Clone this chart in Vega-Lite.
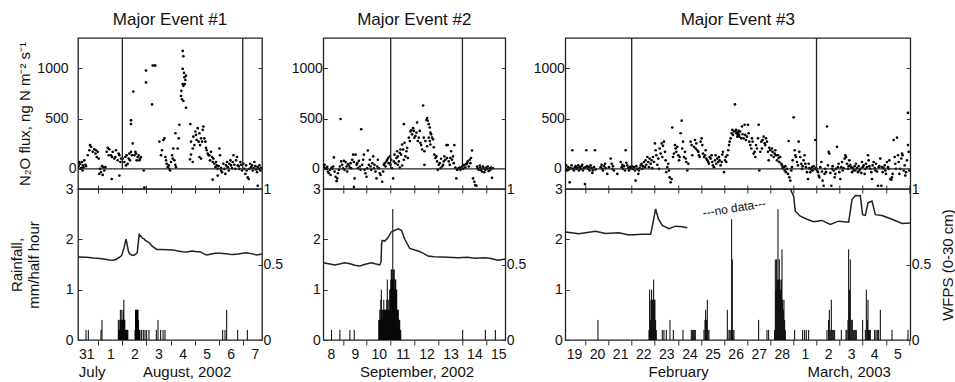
{
"$schema": "https://vega.github.io/schema/vega-lite/v6.json",
"autosize": {"type": "pad"},
"padding": {"left": 8, "top": 10, "right": 0, "bottom": 3},
"background": "white",
"config": {
 "font": "Liberation Sans",
 "view": {"stroke": "#222", "strokeWidth": 1.3},
 "axis": {"grid": false, "domain": false, "labelFont": "Liberation Sans", "labelFontSize": 14, "labelColor": "#111", "tickColor": "#333", "tickWidth": 1, "titleFont": "Liberation Sans", "titleFontWeight": "normal", "titleFontSize": 15, "titleColor": "#111", "labelOverlap": false, "labelFlush": false, "labelBound": false},
 "title": {"fontSize": 17, "fontWeight": "normal", "anchor": "middle", "frame": "group", "offset": 8, "color": "#111", "font": "Liberation Sans"}
},
"datasets": {
 "flux1": [{"day":0.143,"flux":17},{"day":0.185,"flux":27},{"day":0.212,"flux":68},{"day":0.24,"flux":51},{"day":0.282,"flux":7},{"day":0.323,"flux":68},{"day":0.351,"flux":34},{"day":0.351,"flux":-16},{"day":0.379,"flux":17},{"day":0.42,"flux":85},{"day":0.462,"flux":41},{"day":0.49,"flux":27},{"day":0.559,"flux":135},{"day":0.628,"flux":185},{"day":0.656,"flux":236},{"day":0.697,"flux":219},{"day":0.767,"flux":169},{"day":0.836,"flux":195},{"day":0.877,"flux":152},{"day":0.905,"flux":185},{"day":0.933,"flux":118},{"day":0.974,"flux":169},{"day":1.016,"flux":102},{"day":1.043,"flux":-50},{"day":1.071,"flux":0},{"day":1.113,"flux":-33},{"day":1.154,"flux":27},{"day":1.182,"flux":-60},{"day":1.21,"flux":17},{"day":1.251,"flux":-16},{"day":1.293,"flux":17},{"day":1.348,"flux":169},{"day":1.39,"flux":209},{"day":1.431,"flux":135},{"day":1.459,"flux":195},{"day":1.528,"flux":135},{"day":1.556,"flux":-101},{"day":1.57,"flux":118},{"day":1.598,"flux":169},{"day":1.667,"flux":102},{"day":1.708,"flux":118},{"day":1.736,"flux":185},{"day":1.805,"flux":85},{"day":1.847,"flux":152},{"day":1.875,"flux":135},{"day":1.875,"flux":-67},{"day":1.916,"flux":68},{"day":1.944,"flux":102},{"day":2.013,"flux":102},{"day":2.082,"flux":68},{"day":2.124,"flux":118},{"day":2.15,"flux":34},{"day":2.179,"flux":135},{"day":2.221,"flux":51},{"day":2.262,"flux":102},{"day":2.29,"flux":152},{"day":2.318,"flux":85},{"day":2.359,"flux":169},{"day":2.359,"flux":482},{"day":2.359,"flux":445},{"day":2.4,"flux":135},{"day":2.429,"flux":253},{"day":2.456,"flux":768},{"day":2.498,"flux":135},{"day":2.539,"flux":169},{"day":2.567,"flux":152},{"day":2.595,"flux":85},{"day":2.636,"flux":118},{"day":2.678,"flux":135},{"day":2.706,"flux":85},{"day":2.733,"flux":102},{"day":2.775,"flux":118},{"day":2.886,"flux":-16},{"day":2.913,"flux":-185},{"day":2.983,"flux":977},{"day":2.983,"flux":859},{"day":3.232,"flux":640},{"day":3.26,"flux":1027},{"day":3.329,"flux":1027},{"day":3.37,"flux":1027},{"day":3.536,"flux":270},{"day":3.606,"flux":135},{"day":3.647,"flux":185},{"day":3.703,"flux":287},{"day":3.744,"flux":303},{"day":3.786,"flux":118},{"day":3.814,"flux":85},{"day":3.841,"flux":51},{"day":3.883,"flux":17},{"day":3.924,"flux":34},{"day":3.952,"flux":0},{"day":3.98,"flux":-16},{"day":4.021,"flux":68},{"day":4.063,"flux":135},{"day":4.091,"flux":102},{"day":4.118,"flux":202},{"day":4.16,"flux":85},{"day":4.201,"flux":41},{"day":4.201,"flux":354},{"day":4.229,"flux":17},{"day":4.298,"flux":202},{"day":4.34,"flux":303},{"day":4.368,"flux":438},{"day":4.437,"flux":724},{"day":4.451,"flux":775},{"day":4.478,"flux":691},{"day":4.506,"flux":842},{"day":4.506,"flux":994},{"day":4.506,"flux":1172},{"day":4.534,"flux":674},{"day":4.534,"flux":825},{"day":4.534,"flux":1118},{"day":4.561,"flux":953},{"day":4.575,"flux":910},{"day":4.589,"flux":842},{"day":4.617,"flux":883},{"day":4.645,"flux":926},{"day":4.645,"flux":607},{"day":4.81,"flux":95},{"day":4.825,"flux":445},{"day":4.852,"flux":270},{"day":4.852,"flux":142},{"day":4.922,"flux":202},{"day":4.922,"flux":68},{"day":4.949,"flux":320},{"day":4.991,"flux":236},{"day":5.032,"flux":371},{"day":5.06,"flux":337},{"day":5.088,"flux":287},{"day":5.129,"flux":404},{"day":5.171,"flux":270},{"day":5.199,"flux":354},{"day":5.199,"flux":118},{"day":5.226,"flux":236},{"day":5.268,"flux":303},{"day":5.268,"flux":102},{"day":5.309,"flux":270},{"day":5.337,"flux":388},{"day":5.365,"flux":421},{"day":5.406,"flux":303},{"day":5.448,"flux":270},{"day":5.476,"flux":209},{"day":5.503,"flux":185},{"day":5.545,"flux":152},{"day":5.586,"flux":135},{"day":5.614,"flux":135},{"day":5.642,"flux":85},{"day":5.683,"flux":169},{"day":5.725,"flux":118},{"day":5.753,"flux":68},{"day":5.753,"flux":-107},{"day":5.78,"flux":102},{"day":5.822,"flux":51},{"day":5.863,"flux":17},{"day":5.891,"flux":68},{"day":5.919,"flux":34},{"day":5.96,"flux":0},{"day":5.96,"flux":-67},{"day":6.002,"flux":27},{"day":6.03,"flux":202},{"day":6.057,"flux":135},{"day":6.099,"flux":7},{"day":6.099,"flux":-16},{"day":6.14,"flux":-33},{"day":6.196,"flux":51},{"day":6.237,"flux":0},{"day":6.279,"flux":-50},{"day":6.307,"flux":34},{"day":6.348,"flux":68},{"day":6.376,"flux":17},{"day":6.417,"flux":-16},{"day":6.445,"flux":51},{"day":6.487,"flux":85},{"day":6.514,"flux":34},{"day":6.556,"flux":7},{"day":6.584,"flux":68},{"day":6.611,"flux":135},{"day":6.653,"flux":41},{"day":6.694,"flux":0},{"day":6.722,"flux":85},{"day":6.764,"flux":118},{"day":6.791,"flux":34},{"day":6.833,"flux":27},{"day":6.861,"flux":0},{"day":6.902,"flux":68},{"day":6.93,"flux":41},{"day":6.971,"flux":-16},{"day":7.027,"flux":51},{"day":7.068,"flux":0},{"day":7.11,"flux":-50},{"day":7.138,"flux":34},{"day":7.165,"flux":-16},{"day":7.207,"flux":-84},{"day":7.248,"flux":-101},{"day":7.276,"flux":0},{"day":7.304,"flux":51},{"day":7.345,"flux":17},{"day":7.387,"flux":34},{"day":7.415,"flux":-16},{"day":7.456,"flux":7},{"day":7.484,"flux":68},{"day":7.525,"flux":27},{"day":7.553,"flux":-6},{"day":7.595,"flux":-33},{"day":7.622,"flux":17},{"day":7.622,"flux":-168},{"day":7.664,"flux":0},{"day":7.692,"flux":34},{"day":7.733,"flux":-16},{"day":7.761,"flux":7}],
 "flux2": [{"day":8.139,"flux":33},{"day":8.18,"flux":23},{"day":8.208,"flux":13},{"day":8.236,"flux":40},{"day":8.278,"flux":6},{"day":8.32,"flux":0},{"day":8.347,"flux":20},{"day":8.375,"flux":-27},{"day":8.417,"flux":-44},{"day":8.459,"flux":-10},{"day":8.487,"flux":-61},{"day":8.528,"flux":13},{"day":8.556,"flux":0},{"day":8.598,"flux":23},{"day":8.626,"flux":114},{"day":8.654,"flux":-27},{"day":8.695,"flux":-78},{"day":8.737,"flux":-122},{"day":8.765,"flux":-95},{"day":8.793,"flux":-44},{"day":8.835,"flux":-10},{"day":8.876,"flux":23},{"day":8.904,"flux":495},{"day":8.932,"flux":74},{"day":8.974,"flux":40},{"day":9.015,"flux":6},{"day":9.043,"flux":81},{"day":9.071,"flux":-10},{"day":9.113,"flux":67},{"day":9.155,"flux":23},{"day":9.182,"flux":-27},{"day":9.21,"flux":47},{"day":9.252,"flux":33},{"day":9.294,"flux":13},{"day":9.322,"flux":57},{"day":9.35,"flux":6},{"day":9.391,"flux":91},{"day":9.433,"flux":141},{"day":9.461,"flux":67},{"day":9.461,"flux":-179},{"day":9.489,"flux":-95},{"day":9.53,"flux":141},{"day":9.572,"flux":40},{"day":9.6,"flux":57},{"day":9.628,"flux":6},{"day":9.67,"flux":81},{"day":9.711,"flux":23},{"day":9.739,"flux":-10},{"day":9.767,"flux":394},{"day":9.809,"flux":40},{"day":9.85,"flux":91},{"day":9.878,"flux":141},{"day":9.906,"flux":-10},{"day":9.948,"flux":-44},{"day":9.99,"flux":-78},{"day":10.017,"flux":6},{"day":10.045,"flux":182},{"day":10.087,"flux":40},{"day":10.129,"flux":91},{"day":10.157,"flux":23},{"day":10.185,"flux":-10},{"day":10.226,"flux":57},{"day":10.268,"flux":124},{"day":10.296,"flux":6},{"day":10.324,"flux":40},{"day":10.365,"flux":-27},{"day":10.407,"flux":-95},{"day":10.435,"flux":23},{"day":10.463,"flux":91},{"day":10.505,"flux":6},{"day":10.546,"flux":-44},{"day":10.574,"flux":-61},{"day":10.644,"flux":-128},{"day":10.685,"flux":-27},{"day":10.713,"flux":40},{"day":10.755,"flux":57},{"day":10.783,"flux":23},{"day":10.825,"flux":74},{"day":10.853,"flux":91},{"day":10.894,"flux":108},{"day":10.922,"flux":57},{"day":10.964,"flux":124},{"day":10.992,"flux":40},{"day":11.02,"flux":91},{"day":11.061,"flux":6},{"day":11.103,"flux":-95},{"day":11.131,"flux":74},{"day":11.159,"flux":141},{"day":11.2,"flux":57},{"day":11.242,"flux":108},{"day":11.27,"flux":175},{"day":11.298,"flux":124},{"day":11.298,"flux":40},{"day":11.34,"flux":74},{"day":11.381,"flux":158},{"day":11.381,"flux":13},{"day":11.409,"flux":192},{"day":11.437,"flux":141},{"day":11.479,"flux":242},{"day":11.479,"flux":33},{"day":11.521,"flux":192},{"day":11.549,"flux":444},{"day":11.549,"flux":91},{"day":11.576,"flux":259},{"day":11.618,"flux":124},{"day":11.66,"flux":175},{"day":11.688,"flux":209},{"day":11.716,"flux":108},{"day":11.757,"flux":310},{"day":11.799,"flux":276},{"day":11.827,"flux":370},{"day":11.855,"flux":384},{"day":11.897,"flux":343},{"day":11.938,"flux":404},{"day":11.966,"flux":377},{"day":11.994,"flux":310},{"day":12.036,"flux":326},{"day":12.077,"flux":360},{"day":12.105,"flux":461},{"day":12.133,"flux":276},{"day":12.175,"flux":310},{"day":12.217,"flux":377},{"day":12.244,"flux":259},{"day":12.272,"flux":236},{"day":12.314,"flux":192},{"day":12.356,"flux":629},{"day":12.384,"flux":310},{"day":12.412,"flux":40},{"day":12.412,"flux":175},{"day":12.453,"flux":276},{"day":12.495,"flux":485},{"day":12.523,"flux":505},{"day":12.523,"flux":225},{"day":12.551,"flux":478},{"day":12.592,"flux":444},{"day":12.592,"flux":310},{"day":12.634,"flux":411},{"day":12.634,"flux":276},{"day":12.662,"flux":360},{"day":12.662,"flux":242},{"day":12.69,"flux":343},{"day":12.732,"flux":310},{"day":12.773,"flux":293},{"day":12.801,"flux":215},{"day":12.829,"flux":141},{"day":12.871,"flux":108},{"day":12.912,"flux":124},{"day":12.94,"flux":74},{"day":12.968,"flux":-10},{"day":13.01,"flux":40},{"day":13.052,"flux":57},{"day":13.08,"flux":6},{"day":13.107,"flux":101},{"day":13.149,"flux":23},{"day":13.191,"flux":40},{"day":13.219,"flux":74},{"day":13.247,"flux":124},{"day":13.288,"flux":91},{"day":13.33,"flux":236},{"day":13.358,"flux":108},{"day":13.386,"flux":236},{"day":13.427,"flux":74},{"day":13.469,"flux":40},{"day":13.497,"flux":108},{"day":13.525,"flux":175},{"day":13.567,"flux":91},{"day":13.608,"flux":124},{"day":13.636,"flux":57},{"day":13.664,"flux":236},{"day":13.706,"flux":13},{"day":13.748,"flux":-95},{"day":13.775,"flux":-10},{"day":13.803,"flux":-3},{"day":13.845,"flux":6},{"day":13.887,"flux":13},{"day":13.915,"flux":-10},{"day":13.943,"flux":6},{"day":13.984,"flux":23},{"day":14.026,"flux":0},{"day":14.054,"flux":33},{"day":14.082,"flux":40},{"day":14.123,"flux":13},{"day":14.165,"flux":47},{"day":14.193,"flux":57},{"day":14.221,"flux":74},{"day":14.263,"flux":23},{"day":14.304,"flux":91},{"day":14.332,"flux":57},{"day":14.36,"flux":108},{"day":14.402,"flux":182},{"day":14.443,"flux":-95},{"day":14.499,"flux":-128},{"day":14.541,"flux":-162},{"day":14.583,"flux":-168},{"day":14.611,"flux":23},{"day":14.638,"flux":6},{"day":14.68,"flux":-10},{"day":14.722,"flux":33},{"day":14.75,"flux":13},{"day":14.778,"flux":-10},{"day":14.819,"flux":-27},{"day":14.861,"flux":23},{"day":14.889,"flux":6},{"day":14.917,"flux":-34},{"day":14.958,"flux":-10},{"day":15.0,"flux":13},{"day":15.028,"flux":0},{"day":15.056,"flux":23},{"day":15.097,"flux":-20},{"day":15.139,"flux":6},{"day":15.167,"flux":-10},{"day":15.195,"flux":13},{"day":15.237,"flux":-88},{"day":15.278,"flux":6}],
 "flux3": [{"day":19.14,"flux":0},{"day":19.169,"flux":34},{"day":19.212,"flux":-16},{"day":19.256,"flux":17},{"day":19.285,"flux":-6},{"day":19.313,"flux":-134},{"day":19.357,"flux":7},{"day":19.4,"flux":34},{"day":19.429,"flux":185},{"day":19.458,"flux":0},{"day":19.501,"flux":-16},{"day":19.544,"flux":17},{"day":19.573,"flux":27},{"day":19.602,"flux":0},{"day":19.645,"flux":7},{"day":19.689,"flux":34},{"day":19.718,"flux":-16},{"day":19.746,"flux":17},{"day":19.79,"flux":0},{"day":19.833,"flux":27},{"day":19.862,"flux":41},{"day":19.891,"flux":-16},{"day":19.934,"flux":7},{"day":19.977,"flux":-151},{"day":20.006,"flux":17},{"day":20.035,"flux":185},{"day":20.078,"flux":27},{"day":20.122,"flux":0},{"day":20.15,"flux":17},{"day":20.179,"flux":-16},{"day":20.223,"flux":34},{"day":20.266,"flux":7},{"day":20.295,"flux":-40},{"day":20.324,"flux":-16},{"day":20.367,"flux":17},{"day":20.41,"flux":185},{"day":20.439,"flux":-6},{"day":20.656,"flux":17},{"day":20.699,"flux":41},{"day":20.728,"flux":0},{"day":20.757,"flux":-16},{"day":20.8,"flux":27},{"day":20.843,"flux":51},{"day":20.872,"flux":7},{"day":20.944,"flux":-50},{"day":21.016,"flux":17},{"day":21.088,"flux":102},{"day":21.132,"flux":51},{"day":21.161,"flux":0},{"day":21.189,"flux":27},{"day":21.233,"flux":-16},{"day":21.377,"flux":-50},{"day":21.521,"flux":68},{"day":21.565,"flux":17},{"day":21.593,"flux":41},{"day":21.622,"flux":0},{"day":21.666,"flux":27},{"day":21.709,"flux":-16},{"day":21.738,"flux":185},{"day":21.767,"flux":61},{"day":21.81,"flux":34},{"day":21.853,"flux":7},{"day":21.882,"flux":-16},{"day":21.911,"flux":17},{"day":21.954,"flux":0},{"day":21.997,"flux":27},{"day":22.055,"flux":0},{"day":22.098,"flux":17},{"day":22.142,"flux":-16},{"day":22.171,"flux":-117},{"day":22.199,"flux":27},{"day":22.243,"flux":0},{"day":22.286,"flux":-50},{"day":22.315,"flux":-16},{"day":22.344,"flux":7},{"day":22.387,"flux":34},{"day":22.43,"flux":51},{"day":22.459,"flux":0},{"day":22.488,"flux":27},{"day":22.531,"flux":68},{"day":22.575,"flux":17},{"day":22.604,"flux":85},{"day":22.632,"flux":41},{"day":22.676,"flux":118},{"day":22.719,"flux":68},{"day":22.748,"flux":17},{"day":22.777,"flux":102},{"day":22.82,"flux":51},{"day":22.863,"flux":85},{"day":22.892,"flux":7},{"day":22.921,"flux":118},{"day":22.964,"flux":68},{"day":23.007,"flux":253},{"day":23.036,"flux":185},{"day":23.065,"flux":135},{"day":23.109,"flux":41},{"day":23.152,"flux":102},{"day":23.181,"flux":0},{"day":23.21,"flux":202},{"day":23.253,"flux":152},{"day":23.296,"flux":253},{"day":23.325,"flux":118},{"day":23.354,"flux":229},{"day":23.397,"flux":270},{"day":23.44,"flux":169},{"day":23.469,"flux":85},{"day":23.498,"flux":-33},{"day":23.541,"flux":17},{"day":23.585,"flux":51},{"day":23.614,"flux":-16},{"day":23.643,"flux":-84},{"day":23.686,"flux":-134},{"day":23.729,"flux":-101},{"day":23.758,"flux":411},{"day":23.787,"flux":118},{"day":23.83,"flux":152},{"day":23.873,"flux":236},{"day":23.902,"flux":202},{"day":23.931,"flux":169},{"day":23.974,"flux":219},{"day":24.018,"flux":135},{"day":24.047,"flux":85},{"day":24.075,"flux":118},{"day":24.119,"flux":354},{"day":24.162,"flux":479},{"day":24.191,"flux":202},{"day":24.22,"flux":270},{"day":24.263,"flux":118},{"day":24.306,"flux":169},{"day":24.335,"flux":102},{"day":24.364,"flux":68},{"day":24.407,"flux":-16},{"day":24.451,"flux":51},{"day":24.552,"flux":270},{"day":24.595,"flux":236},{"day":24.624,"flux":135},{"day":24.696,"flux":219},{"day":24.739,"flux":287},{"day":24.768,"flux":202},{"day":24.797,"flux":253},{"day":24.84,"flux":185},{"day":24.883,"flux":169},{"day":24.912,"flux":135},{"day":24.941,"flux":118},{"day":24.984,"flux":270},{"day":25.028,"flux":303},{"day":25.057,"flux":236},{"day":25.085,"flux":152},{"day":25.129,"flux":118},{"day":25.172,"flux":135},{"day":25.201,"flux":185},{"day":25.23,"flux":102},{"day":25.273,"flux":85},{"day":25.316,"flux":68},{"day":25.345,"flux":51},{"day":25.374,"flux":118},{"day":25.417,"flux":102},{"day":25.46,"flux":135},{"day":25.49,"flux":68},{"day":25.518,"flux":34},{"day":25.562,"flux":17},{"day":25.605,"flux":85},{"day":25.634,"flux":135},{"day":25.663,"flux":51},{"day":25.706,"flux":102},{"day":25.749,"flux":68},{"day":25.778,"flux":118},{"day":25.807,"flux":85},{"day":25.85,"flux":34},{"day":25.894,"flux":68},{"day":25.922,"flux":142},{"day":25.951,"flux":169},{"day":25.995,"flux":-33},{"day":26.038,"flux":85},{"day":26.067,"flux":118},{"day":26.096,"flux":68},{"day":26.139,"flux":135},{"day":26.182,"flux":185},{"day":26.211,"flux":236},{"day":26.24,"flux":270},{"day":26.283,"flux":303},{"day":26.327,"flux":354},{"day":26.355,"flux":388},{"day":26.384,"flux":337},{"day":26.427,"flux":371},{"day":26.471,"flux":640},{"day":26.5,"flux":378},{"day":26.528,"flux":354},{"day":26.572,"flux":320},{"day":26.615,"flux":364},{"day":26.644,"flux":337},{"day":26.514,"flux":388},{"day":26.557,"flux":354},{"day":26.6,"flux":337},{"day":26.629,"flux":378},{"day":26.658,"flux":320},{"day":26.701,"flux":371},{"day":26.745,"flux":303},{"day":26.774,"flux":421},{"day":26.802,"flux":344},{"day":26.846,"flux":303},{"day":26.889,"flux":438},{"day":26.918,"flux":337},{"day":26.947,"flux":287},{"day":26.99,"flux":320},{"day":27.033,"flux":438},{"day":27.062,"flux":354},{"day":27.091,"flux":270},{"day":27.134,"flux":236},{"day":27.178,"flux":202},{"day":27.207,"flux":303},{"day":27.235,"flux":270},{"day":27.279,"flux":152},{"day":27.322,"flux":169},{"day":27.351,"flux":118},{"day":27.38,"flux":236},{"day":27.423,"flux":202},{"day":27.466,"flux":303},{"day":27.495,"flux":438},{"day":27.524,"flux":-16},{"day":27.567,"flux":169},{"day":27.61,"flux":270},{"day":27.639,"flux":202},{"day":27.668,"flux":287},{"day":27.712,"flux":320},{"day":27.755,"flux":253},{"day":27.784,"flux":236},{"day":27.813,"flux":303},{"day":27.856,"flux":270},{"day":27.899,"flux":169},{"day":27.928,"flux":85},{"day":27.957,"flux":209},{"day":28.0,"flux":185},{"day":28.043,"flux":135},{"day":28.072,"flux":202},{"day":28.101,"flux":169},{"day":28.144,"flux":118},{"day":28.188,"flux":152},{"day":28.217,"flux":185},{"day":28.245,"flux":135},{"day":28.289,"flux":85},{"day":28.332,"flux":135},{"day":28.361,"flux":108},{"day":28.39,"flux":68},{"day":28.433,"flux":118},{"day":28.476,"flux":51},{"day":28.505,"flux":34},{"day":28.534,"flux":7},{"day":28.577,"flux":17},{"day":28.621,"flux":-16},{"day":28.649,"flux":27},{"day":28.678,"flux":-33},{"day":28.722,"flux":0},{"day":28.765,"flux":-50},{"day":28.794,"flux":277},{"day":28.823,"flux":-84},{"day":28.866,"flux":-117},{"day":28.909,"flux":-16},{"day":28.938,"flux":17},{"day":28.967,"flux":85},{"day":29.01,"flux":512},{"day":29.054,"flux":185},{"day":29.082,"flux":135},{"day":29.111,"flux":118},{"day":29.155,"flux":68},{"day":29.198,"flux":34},{"day":29.227,"flux":270},{"day":29.256,"flux":169},{"day":29.299,"flux":118},{"day":29.342,"flux":51},{"day":29.371,"flux":0},{"day":29.4,"flux":27},{"day":29.443,"flux":85},{"day":29.486,"flux":135},{"day":29.515,"flux":51},{"day":29.544,"flux":17},{"day":29.587,"flux":-33},{"day":29.631,"flux":-101},{"day":29.66,"flux":51},{"day":29.688,"flux":7},{"day":29.732,"flux":-33},{"day":29.775,"flux":-6},{"day":29.804,"flux":17},{"day":29.833,"flux":-16},{"day":29.876,"flux":27},{"day":29.919,"flux":0},{"day":29.948,"flux":287},{"day":29.977,"flux":7},{"day":30.02,"flux":-16},{"day":30.064,"flux":-33},{"day":30.093,"flux":-67},{"day":30.121,"flux":-84},{"day":30.165,"flux":17},{"day":30.208,"flux":68},{"day":30.237,"flux":-27},{"day":30.266,"flux":-117},{"day":30.309,"flux":-168},{"day":30.352,"flux":-50},{"day":30.381,"flux":0},{"day":30.41,"flux":-33},{"day":30.453,"flux":421},{"day":30.497,"flux":34},{"day":30.525,"flux":169},{"day":30.554,"flux":152},{"day":30.598,"flux":-40},{"day":30.641,"flux":-168},{"day":30.67,"flux":0},{"day":30.699,"flux":27},{"day":30.742,"flux":-16},{"day":30.785,"flux":-84},{"day":30.814,"flux":-50},{"day":30.843,"flux":0},{"day":30.886,"flux":219},{"day":30.929,"flux":17},{"day":30.958,"flux":51},{"day":30.987,"flux":-33},{"day":31.03,"flux":-101},{"day":31.074,"flux":17},{"day":31.103,"flux":68},{"day":31.131,"flux":-16},{"day":31.175,"flux":7},{"day":31.218,"flux":102},{"day":31.247,"flux":135},{"day":31.276,"flux":118},{"day":31.319,"flux":51},{"day":31.362,"flux":0},{"day":31.391,"flux":27},{"day":31.42,"flux":85},{"day":31.463,"flux":41},{"day":31.507,"flux":17},{"day":31.536,"flux":-33},{"day":31.564,"flux":7},{"day":31.608,"flux":-16},{"day":31.651,"flux":27},{"day":31.68,"flux":-16},{"day":31.709,"flux":51},{"day":31.752,"flux":7},{"day":31.795,"flux":-33},{"day":31.824,"flux":27},{"day":31.853,"flux":-16},{"day":31.896,"flux":0},{"day":31.94,"flux":-40},{"day":31.968,"flux":68},{"day":31.997,"flux":17},{"day":32.041,"flux":34},{"day":32.084,"flux":-50},{"day":32.113,"flux":0},{"day":32.142,"flux":51},{"day":32.185,"flux":17},{"day":32.228,"flux":135},{"day":32.257,"flux":85},{"day":32.286,"flux":27},{"day":32.329,"flux":0},{"day":32.372,"flux":-33},{"day":32.401,"flux":-101},{"day":32.43,"flux":34},{"day":32.473,"flux":68},{"day":32.517,"flux":7},{"day":32.546,"flux":-16},{"day":32.574,"flux":51},{"day":32.618,"flux":-27},{"day":32.661,"flux":-168},{"day":32.69,"flux":17},{"day":32.719,"flux":27},{"day":32.762,"flux":102},{"day":32.805,"flux":-168},{"day":32.834,"flux":17},{"day":32.863,"flux":-33},{"day":32.906,"flux":7},{"day":32.95,"flux":34},{"day":32.979,"flux":-16},{"day":33.007,"flux":-50},{"day":33.051,"flux":68},{"day":33.094,"flux":17},{"day":33.123,"flux":0},{"day":33.152,"flux":85},{"day":33.195,"flux":-101},{"day":33.238,"flux":-107},{"day":33.267,"flux":-84},{"day":33.296,"flux":-50},{"day":33.339,"flux":287},{"day":33.383,"flux":118},{"day":33.411,"flux":51},{"day":33.44,"flux":0},{"day":33.484,"flux":310},{"day":33.527,"flux":135},{"day":33.556,"flux":68},{"day":33.585,"flux":-50},{"day":33.628,"flux":0},{"day":33.671,"flux":102},{"day":33.7,"flux":152},{"day":33.729,"flux":135},{"day":33.772,"flux":-16},{"day":33.816,"flux":34},{"day":33.844,"flux":-67},{"day":33.873,"flux":-33},{"day":33.916,"flux":85},{"day":33.96,"flux":236},{"day":33.989,"flux":169},{"day":34.018,"flux":-16},{"day":33.96,"flux":556}],
 "rain1": [{"day":0.489,"rain":0.2},{"day":0.585,"rain":0.2},{"day":1.112,"rain":0.2},{"day":1.154,"rain":0.4},{"day":1.832,"rain":0.4},{"day":1.853,"rain":0.2},{"day":1.874,"rain":0.2},{"day":1.895,"rain":0.4},{"day":1.916,"rain":0.6},{"day":1.937,"rain":0.4},{"day":1.957,"rain":0.4},{"day":1.978,"rain":0.6},{"day":1.999,"rain":0.4},{"day":2.02,"rain":0.4},{"day":2.041,"rain":0.6},{"day":2.062,"rain":0.8},{"day":2.082,"rain":0.4},{"day":2.103,"rain":0.4},{"day":2.124,"rain":0.2},{"day":2.145,"rain":0.2},{"day":2.166,"rain":0.2},{"day":2.187,"rain":0.2},{"day":2.207,"rain":0.2},{"day":2.228,"rain":0.2},{"day":2.525,"rain":0.2},{"day":2.546,"rain":0.6},{"day":2.567,"rain":0.6},{"day":2.587,"rain":0.6},{"day":2.608,"rain":0.6},{"day":2.629,"rain":0.6},{"day":2.65,"rain":0.6},{"day":2.671,"rain":0.4},{"day":2.692,"rain":0.2},{"day":2.712,"rain":0.2},{"day":2.733,"rain":0.2},{"day":2.8,"rain":0.2},{"day":2.87,"rain":0.2},{"day":2.94,"rain":0.2},{"day":3.01,"rain":0.2},{"day":3.106,"rain":0.2},{"day":3.41,"rain":0.2},{"day":3.48,"rain":0.4},{"day":3.59,"rain":0.2},{"day":3.69,"rain":0.2},{"day":3.77,"rain":0.2},{"day":6.167,"rain":0.2},{"day":6.264,"rain":0.2},{"day":6.333,"rain":0.6},{"day":6.79,"rain":0.2},{"day":7.19,"rain":0.2}],
 "rain2": [{"day":8.528,"rain":0.2},{"day":8.876,"rain":0.2},{"day":9.294,"rain":0.2},{"day":9.475,"rain":0.2},{"day":10.504,"rain":0.4},{"day":10.525,"rain":0.4},{"day":10.546,"rain":0.6},{"day":10.567,"rain":0.4},{"day":10.588,"rain":0.8},{"day":10.608,"rain":1.0},{"day":10.629,"rain":0.6},{"day":10.65,"rain":0.6},{"day":10.671,"rain":0.4},{"day":10.692,"rain":0.6},{"day":10.712,"rain":0.8},{"day":10.733,"rain":0.6},{"day":10.754,"rain":0.6},{"day":10.775,"rain":0.6},{"day":10.796,"rain":0.6},{"day":10.817,"rain":0.6},{"day":10.837,"rain":0.8},{"day":10.858,"rain":1.2},{"day":10.879,"rain":0.6},{"day":10.9,"rain":0.6},{"day":10.921,"rain":0.8},{"day":10.942,"rain":0.6},{"day":10.962,"rain":1.0},{"day":10.983,"rain":1.0},{"day":11.004,"rain":1.2},{"day":11.025,"rain":1.4},{"day":11.046,"rain":1.4},{"day":11.067,"rain":1.2},{"day":11.087,"rain":2.6},{"day":11.108,"rain":1.4},{"day":11.129,"rain":1.2},{"day":11.15,"rain":1.4},{"day":11.171,"rain":1.0},{"day":11.192,"rain":1.2},{"day":11.212,"rain":1.2},{"day":11.233,"rain":1.0},{"day":11.254,"rain":1.0},{"day":11.275,"rain":0.6},{"day":11.296,"rain":0.6},{"day":11.317,"rain":0.6},{"day":11.337,"rain":0.4},{"day":11.358,"rain":0.4},{"day":11.379,"rain":0.4},{"day":11.4,"rain":0.2},{"day":11.421,"rain":0.2},{"day":14.012,"rain":0.2},{"day":14.958,"rain":0.2},{"day":15.376,"rain":0.2}],
 "rain3": [{"day":20.54,"rain":0.4},{"day":22.748,"rain":0.2},{"day":22.777,"rain":1.0},{"day":22.806,"rain":0.4},{"day":22.834,"rain":0.8},{"day":22.863,"rain":1.0},{"day":22.892,"rain":0.8},{"day":22.921,"rain":0.8},{"day":22.95,"rain":1.2},{"day":22.979,"rain":0.8},{"day":23.007,"rain":0.8},{"day":23.036,"rain":0.4},{"day":23.065,"rain":0.2},{"day":23.325,"rain":0.2},{"day":23.397,"rain":0.2},{"day":23.498,"rain":0.2},{"day":23.657,"rain":0.4},{"day":23.801,"rain":0.2},{"day":24.22,"rain":0.2},{"day":24.58,"rain":0.2},{"day":24.624,"rain":0.2},{"day":24.667,"rain":0.2},{"day":24.71,"rain":0.2},{"day":24.754,"rain":0.2},{"day":25.129,"rain":0.2},{"day":25.172,"rain":0.4},{"day":25.201,"rain":0.6},{"day":25.244,"rain":0.4},{"day":25.273,"rain":0.8},{"day":25.302,"rain":0.2},{"day":25.345,"rain":0.2},{"day":26.139,"rain":0.6},{"day":26.211,"rain":0.2},{"day":26.254,"rain":0.2},{"day":26.298,"rain":0.2},{"day":26.327,"rain":2.4},{"day":26.355,"rain":1.6},{"day":26.384,"rain":0.2},{"day":26.427,"rain":0.2},{"day":27.495,"rain":0.4},{"day":27.856,"rain":0.2},{"day":27.928,"rain":0.2},{"day":28.188,"rain":0.2},{"day":28.217,"rain":1.6},{"day":28.245,"rain":1.0},{"day":28.274,"rain":1.6},{"day":28.303,"rain":1.2},{"day":28.332,"rain":2.6},{"day":28.361,"rain":1.2},{"day":28.39,"rain":1.6},{"day":28.419,"rain":1.2},{"day":28.447,"rain":1.0},{"day":28.476,"rain":1.2},{"day":28.505,"rain":1.8},{"day":28.534,"rain":0.8},{"day":28.563,"rain":0.6},{"day":28.592,"rain":0.8},{"day":28.621,"rain":0.4},{"day":28.649,"rain":0.2},{"day":29.054,"rain":0.2},{"day":29.4,"rain":0.2},{"day":29.486,"rain":0.2},{"day":29.558,"rain":0.2},{"day":29.66,"rain":0.2},{"day":30.453,"rain":0.2},{"day":30.525,"rain":0.4},{"day":30.554,"rain":0.6},{"day":30.598,"rain":0.2},{"day":30.641,"rain":0.8},{"day":30.684,"rain":0.2},{"day":30.727,"rain":0.2},{"day":30.785,"rain":0.2},{"day":31.074,"rain":0.2},{"day":31.276,"rain":0.2},{"day":31.319,"rain":0.2},{"day":31.362,"rain":0.4},{"day":31.391,"rain":1.8},{"day":31.434,"rain":1.0},{"day":31.463,"rain":1.6},{"day":31.507,"rain":0.4},{"day":31.55,"rain":0.4},{"day":31.593,"rain":0.2},{"day":31.636,"rain":0.2},{"day":31.68,"rain":0.2},{"day":31.723,"rain":0.2},{"day":31.997,"rain":0.4},{"day":32.113,"rain":0.2},{"day":32.156,"rain":1.0},{"day":32.2,"rain":0.4},{"day":32.228,"rain":0.8},{"day":32.257,"rain":0.2},{"day":32.3,"rain":0.2},{"day":32.329,"rain":0.2},{"day":32.517,"rain":0.2},{"day":32.574,"rain":0.2},{"day":32.632,"rain":0.2},{"day":32.69,"rain":0.2},{"day":32.762,"rain":0.6},{"day":33.267,"rain":0.2},{"day":33.96,"rain":0.2}],
 "w1": [{"day":0.157,"wfps":0.55},{"day":0.5,"wfps":0.548},{"day":0.8,"wfps":0.543},{"day":1.071,"wfps":0.54},{"day":1.3,"wfps":0.535},{"day":1.45,"wfps":0.53},{"day":1.623,"wfps":0.528},{"day":1.75,"wfps":0.535},{"day":1.9,"wfps":0.55},{"day":1.97,"wfps":0.56},{"day":2.068,"wfps":0.61},{"day":2.11,"wfps":0.64},{"day":2.151,"wfps":0.667},{"day":2.19,"wfps":0.64},{"day":2.246,"wfps":0.59},{"day":2.3,"wfps":0.57},{"day":2.388,"wfps":0.563},{"day":2.47,"wfps":0.56},{"day":2.566,"wfps":0.57},{"day":2.62,"wfps":0.58},{"day":2.67,"wfps":0.66},{"day":2.703,"wfps":0.7},{"day":2.845,"wfps":0.673},{"day":2.9,"wfps":0.67},{"day":2.95,"wfps":0.66},{"day":3.011,"wfps":0.655},{"day":3.1,"wfps":0.645},{"day":3.25,"wfps":0.62},{"day":3.426,"wfps":0.6},{"day":3.6,"wfps":0.6},{"day":3.9,"wfps":0.598},{"day":4.116,"wfps":0.596},{"day":4.3,"wfps":0.59},{"day":4.5,"wfps":0.585},{"day":4.673,"wfps":0.583},{"day":4.9,"wfps":0.59},{"day":5.1,"wfps":0.585},{"day":5.225,"wfps":0.585},{"day":5.4,"wfps":0.57},{"day":5.504,"wfps":0.563},{"day":5.7,"wfps":0.57},{"day":5.85,"wfps":0.575},{"day":6.056,"wfps":0.574},{"day":6.3,"wfps":0.572},{"day":6.45,"wfps":0.568},{"day":6.609,"wfps":0.567},{"day":6.8,"wfps":0.57},{"day":7.0,"wfps":0.575},{"day":7.165,"wfps":0.578},{"day":7.35,"wfps":0.572},{"day":7.581,"wfps":0.563},{"day":7.8,"wfps":0.57}],
 "w2": [{"day":8.182,"wfps":0.512},{"day":8.4,"wfps":0.505},{"day":8.666,"wfps":0.497},{"day":8.9,"wfps":0.505},{"day":9.083,"wfps":0.512},{"day":9.3,"wfps":0.505},{"day":9.5,"wfps":0.495},{"day":9.71,"wfps":0.49},{"day":9.9,"wfps":0.5},{"day":10.198,"wfps":0.512},{"day":10.35,"wfps":0.505},{"day":10.545,"wfps":0.497},{"day":10.6,"wfps":0.52},{"day":10.62,"wfps":0.64},{"day":10.645,"wfps":0.66},{"day":10.754,"wfps":0.655},{"day":10.866,"wfps":0.673},{"day":11.033,"wfps":0.717},{"day":11.313,"wfps":0.737},{"day":11.451,"wfps":0.726},{"day":11.589,"wfps":0.667},{"day":11.797,"wfps":0.607},{"day":12.148,"wfps":0.589},{"day":12.35,"wfps":0.575},{"day":12.566,"wfps":0.556},{"day":12.8,"wfps":0.552},{"day":13.121,"wfps":0.55},{"day":13.4,"wfps":0.548},{"day":13.818,"wfps":0.545},{"day":14.2,"wfps":0.548},{"day":14.511,"wfps":0.541},{"day":14.929,"wfps":0.545},{"day":15.2,"wfps":0.54},{"day":15.488,"wfps":0.528},{"day":15.793,"wfps":0.537}],
 "w3": [{"day":19.139,"wfps":0.715,"seg":1},{"day":19.719,"wfps":0.703,"seg":1},{"day":20.437,"wfps":0.72,"seg":1},{"day":20.87,"wfps":0.706,"seg":1},{"day":21.45,"wfps":0.71,"seg":1},{"day":21.883,"wfps":0.695,"seg":1},{"day":22.459,"wfps":0.7,"seg":1},{"day":22.818,"wfps":0.7,"seg":1},{"day":22.922,"wfps":0.776,"seg":1},{"day":23.035,"wfps":0.868,"seg":1},{"day":23.152,"wfps":0.803,"seg":1},{"day":23.325,"wfps":0.759,"seg":1},{"day":23.615,"wfps":0.737,"seg":1},{"day":23.9,"wfps":0.754,"seg":1},{"day":24.19,"wfps":0.75,"seg":1},{"day":24.407,"wfps":0.743,"seg":1},{"day":28.866,"wfps":1.0,"seg":2},{"day":29.009,"wfps":0.952,"seg":2},{"day":29.082,"wfps":0.853,"seg":2},{"day":29.299,"wfps":0.82,"seg":2},{"day":29.59,"wfps":0.8,"seg":2},{"day":29.874,"wfps":0.783,"seg":2},{"day":30.238,"wfps":0.792,"seg":2},{"day":30.597,"wfps":0.766,"seg":2},{"day":30.957,"wfps":0.787,"seg":2},{"day":31.39,"wfps":0.78,"seg":2},{"day":31.537,"wfps":0.93,"seg":2},{"day":31.68,"wfps":0.957,"seg":2},{"day":31.896,"wfps":0.955,"seg":2},{"day":31.996,"wfps":0.83,"seg":2},{"day":32.113,"wfps":0.825,"seg":2},{"day":32.23,"wfps":0.908,"seg":2},{"day":32.403,"wfps":0.92,"seg":2},{"day":32.545,"wfps":0.83,"seg":2},{"day":32.835,"wfps":0.825,"seg":2},{"day":33.268,"wfps":0.8,"seg":2},{"day":33.701,"wfps":0.772,"seg":2},{"day":34.06,"wfps":0.775,"seg":2}]
},
"hconcat": [
 {
 "spacing": 6.3,
 "hconcat": [
 {
  "spacing": 0, "bounds": "flush",
  "vconcat": [
   {"width": 184, "height": 151, "title": "Major Event #1",
    "layer": [
     {"data": {"name": "flux1"}, "mark": {"type": "circle", "size": 7, "color": "black", "opacity": 1, "clip": true},
      "encoding": {
       "x": {"field": "day", "type": "quantitative", "scale": {"domain": [0.157, 7.8], "nice": false, "zero": false}, "axis": {"orient": "bottom", "values": [1,2,3,4,5,6,7], "labels": false, "tickSize": 8, "offset": -4, "title": null}},
       "y": {"field": "flux", "type": "quantitative", "scale": {"domain": [-200, 1300], "nice": false}, "axis": {"orient": "left", "values": [0,500,1000], "format": "d", "tickSize": 4, "offset": -4, "labelPadding": {"condition": {"test": "datum.value == 0", "value": 2}, "value": 10}, "title": "N₂O flux, ng N m⁻² s⁻¹", "titlePadding": 4}}
      }},
     {"data": {"values": [{"v": 0}]}, "mark": {"type": "rule", "color": "#222", "strokeWidth": 1.2},
      "encoding": {"y": {"field": "v", "type": "quantitative", "scale": {"domain": [-200, 1300], "nice": false}, "axis": {"orient": "right", "values": [500,1000], "labels": false, "tickSize": 4, "offset": -4, "title": null}}}},
     {"data": {"values": [{"day": 2}, {"day": 7}]}, "mark": {"type": "rule", "color": "#222", "strokeWidth": 1.3},
      "encoding": {"x": {"field": "day", "type": "quantitative", "scale": {"domain": [0.157, 7.8], "nice": false, "zero": false}, "axis": null},
       "y": {"datum": 0, "type": "quantitative", "scale": {"domain": [-200, 1300], "nice": false}, "axis": null}, "y2": {"datum": 1300}}}
    ],
    "resolve": {"axis": {"x": "independent", "y": "independent"}}
   },
   {"width": 184, "height": 151,
    "layer": [
     {"data": {"name": "rain1"}, "mark": {"type": "rule", "color": "black", "strokeWidth": 1},
      "encoding": {
       "x": {"field": "day", "type": "quantitative", "scale": {"domain": [0.157, 7.8], "nice": false, "zero": false}, "axis": {"orient": "bottom", "values": [0.5,1,1.5,2,2.5,3,3.5,4,4.5,5,5.5,6,6.5,7,7.5], "tickSize": 5, "labelPadding": 2, "tickOpacity": {"condition": {"test": "datum.value % 1 != 0", "value": 0}, "value": 1}, "labelExpr": "datum.value % 1 == 0 ? '' : (datum.value < 1 ? '31' : '' + floor(datum.value))", "title": null}},
       "y": {"field": "rain", "type": "quantitative", "scale": {"domain": [0, 3], "nice": false}, "axis": {"orient": "left", "values": [0,1,2,3], "tickSize": 4, "offset": -4, "labelPadding": 5, "title": ["Rainfall,", "mm/half hour"], "titlePadding": 24, "titleLineHeight": 17}},
       "y2": {"datum": 0}
      }},
     {"data": {"name": "w1"}, "mark": {"type": "line", "color": "#222", "strokeWidth": 1.5},
      "encoding": {
       "x": {"field": "day", "type": "quantitative", "scale": {"domain": [0.157, 7.8], "nice": false, "zero": false}, "axis": {"orient": "bottom", "values": [0.726, 4.67], "ticks": false, "tickSize": 0, "labelPadding": 24, "labelFontSize": 15, "labelExpr": "datum.value < 2 ? 'July' : 'August, 2002'", "title": null}},
       "y": {"field": "wfps", "type": "quantitative", "scale": {"domain": [0, 1], "nice": false}, "axis": {"orient": "right", "values": [0, 0.5, 1], "format": "~g", "tickSize": 4, "offset": -4, "labelPadding": 1, "title": null}}
      }}
    ],
    "resolve": {"scale": {"y": "independent"}, "axis": {"x": "independent", "y": "independent"}}
   }
  ]
 },
 {
  "spacing": 0, "bounds": "flush",
  "vconcat": [
   {"width": 182, "height": 151, "title": "Major Event #2",
    "layer": [
     {"data": {"name": "flux2"}, "mark": {"type": "circle", "size": 7, "color": "black", "opacity": 1, "clip": true},
      "encoding": {
       "x": {"field": "day", "type": "quantitative", "scale": {"domain": [8.182, 15.793], "nice": false, "zero": false}, "axis": {"orient": "bottom", "values": [9,10,11,12,13,14,15], "labels": false, "tickSize": 8, "offset": -4, "title": null}},
       "y": {"field": "flux", "type": "quantitative", "scale": {"domain": [-200, 1300], "nice": false}, "axis": {"orient": "left", "values": [0,500,1000], "format": "d", "tickSize": 4, "offset": -4, "labelPadding": {"condition": {"test": "datum.value == 0", "value": 4}, "value": 1}, "title": null}}
      }},
     {"data": {"values": [{"v": 0}]}, "mark": {"type": "rule", "color": "#222", "strokeWidth": 1.2},
      "encoding": {"y": {"field": "v", "type": "quantitative", "scale": {"domain": [-200, 1300], "nice": false}, "axis": {"orient": "right", "values": [500,1000], "labels": false, "tickSize": 4, "offset": -4, "title": null}}}},
     {"data": {"values": [{"day": 11}, {"day": 14}]}, "mark": {"type": "rule", "color": "#222", "strokeWidth": 1.3},
      "encoding": {"x": {"field": "day", "type": "quantitative", "scale": {"domain": [8.182, 15.793], "nice": false, "zero": false}, "axis": null},
       "y": {"datum": 0, "type": "quantitative", "scale": {"domain": [-200, 1300], "nice": false}, "axis": null}, "y2": {"datum": 1300}}}
    ],
    "resolve": {"axis": {"x": "independent", "y": "independent"}}
   },
   {"width": 182, "height": 151,
    "layer": [
     {"data": {"name": "rain2"}, "mark": {"type": "rule", "color": "black", "strokeWidth": 1},
      "encoding": {
       "x": {"field": "day", "type": "quantitative", "scale": {"domain": [8.182, 15.793], "nice": false, "zero": false}, "axis": {"orient": "bottom", "values": [8.5,9,9.5,10,10.5,11,11.5,12,12.5,13,13.5,14,14.5,15,15.5], "tickSize": 5, "labelPadding": 2, "tickOpacity": {"condition": {"test": "datum.value % 1 != 0", "value": 0}, "value": 1}, "labelExpr": "datum.value % 1 == 0 ? '' : '' + floor(datum.value)", "title": null}},
       "y": {"field": "rain", "type": "quantitative", "scale": {"domain": [0, 3], "nice": false}, "axis": {"orient": "left", "values": [0,1,2,3], "tickSize": 4, "offset": -4, "labelPadding": 3, "title": null}},
       "y2": {"datum": 0}
      }},
     {"data": {"name": "w2"}, "mark": {"type": "line", "color": "#222", "strokeWidth": 1.5},
      "encoding": {
       "x": {"field": "day", "type": "quantitative", "scale": {"domain": [8.182, 15.793], "nice": false, "zero": false}, "axis": {"orient": "bottom", "values": [12.08], "ticks": false, "tickSize": 0, "labelPadding": 24, "labelFontSize": 15, "labelExpr": "'September, 2002'", "title": null}},
       "y": {"field": "wfps", "type": "quantitative", "scale": {"domain": [0, 1], "nice": false}, "axis": {"orient": "right", "values": [0, 0.5, 1], "format": "~g", "tickSize": 4, "offset": -4, "labelPadding": 1, "title": null}}
      }}
    ],
    "resolve": {"scale": {"y": "independent"}, "axis": {"x": "independent", "y": "independent"}}
   }
  ]
 }
 ]
 },
 {
  "spacing": 0, "bounds": "flush",
  "vconcat": [
   {"width": 345, "height": 151, "title": "Major Event #3",
    "layer": [
     {"data": {"name": "flux3"}, "mark": {"type": "circle", "size": 7, "color": "black", "opacity": 1, "clip": true},
      "encoding": {
       "x": {"field": "day", "type": "quantitative", "scale": {"domain": [19.126, 34.06], "nice": false, "zero": false}, "axis": {"orient": "bottom", "values": [20,21,22,23,24,25,26,27,28,29,30,31,32,33,34], "labels": false, "tickSize": 8, "offset": -4, "title": null}},
       "y": {"field": "flux", "type": "quantitative", "scale": {"domain": [-200, 1300], "nice": false}, "axis": {"orient": "left", "values": [0,500,1000], "format": "d", "tickSize": 4, "offset": -4, "labelPadding": {"condition": {"test": "datum.value == 0", "value": 4}, "value": 1}, "title": null}}
      }},
     {"data": {"values": [{"v": 0}]}, "mark": {"type": "rule", "color": "#222", "strokeWidth": 1.2},
      "encoding": {"y": {"field": "v", "type": "quantitative", "scale": {"domain": [-200, 1300], "nice": false}, "axis": {"orient": "right", "values": [500,1000], "labels": false, "tickSize": 4, "offset": -4, "title": null}}}},
     {"data": {"values": [{"day": 22}, {"day": 30}]}, "mark": {"type": "rule", "color": "#222", "strokeWidth": 1.3},
      "encoding": {"x": {"field": "day", "type": "quantitative", "scale": {"domain": [19.126, 34.06], "nice": false, "zero": false}, "axis": null},
       "y": {"datum": 0, "type": "quantitative", "scale": {"domain": [-200, 1300], "nice": false}, "axis": null}, "y2": {"datum": 1300}}}
    ],
    "resolve": {"axis": {"x": "independent", "y": "independent"}}
   },
   {"width": 345, "height": 151,
    "layer": [
     {"data": {"name": "rain3"}, "mark": {"type": "rule", "color": "black", "strokeWidth": 1},
      "encoding": {
       "x": {"field": "day", "type": "quantitative", "scale": {"domain": [19.126, 34.06], "nice": false, "zero": false}, "axis": {"orient": "bottom", "values": [19.5,20,20.5,21,21.5,22,22.5,23,23.5,24,24.5,25,25.5,26,26.5,27,27.5,28,28.5,29,29.5,30,30.5,31,31.5,32,32.5,33,33.5,34], "tickSize": 5, "labelPadding": 2, "tickOpacity": {"condition": {"test": "datum.value % 1 != 0", "value": 0}, "value": 1}, "labelExpr": "datum.value % 1 == 0 ? '' : '' + (floor(datum.value) > 28 ? floor(datum.value) - 28 : floor(datum.value))", "title": null}},
       "y": {"field": "rain", "type": "quantitative", "scale": {"domain": [0, 3], "nice": false}, "axis": {"orient": "left", "values": [0,1,2,3], "tickSize": 4, "offset": -4, "labelPadding": 3, "title": null}},
       "y2": {"datum": 0}
      }},
     {"data": {"name": "w3"}, "mark": {"type": "line", "color": "#222", "strokeWidth": 1.5},
      "encoding": {
       "x": {"field": "day", "type": "quantitative", "scale": {"domain": [19.126, 34.06], "nice": false, "zero": false}, "axis": {"orient": "bottom", "values": [24.01, 31.39], "ticks": false, "tickSize": 0, "labelPadding": 24, "labelFontSize": 15, "labelExpr": "datum.value < 28 ? 'February' : 'March, 2003'", "title": null}},
       "y": {"field": "wfps", "type": "quantitative", "scale": {"domain": [0, 1], "nice": false}, "axis": {"orient": "right", "values": [0, 0.5, 1], "format": "~g", "tickSize": 4, "offset": -4, "labelPadding": 1, "title": "WFPS (0-30 cm)", "titleAngle": 270, "titleBaseline": "top", "titlePadding": 10}},
       "detail": {"field": "seg", "type": "nominal"}
      }},
     {"data": {"values": [{"day": 26.44, "y": 2.62, "label": "---no data---"}]}, "mark": {"type": "text", "angle": -9, "fontSize": 12, "color": "#111", "font": "Liberation Sans"},
      "encoding": {
       "x": {"field": "day", "type": "quantitative", "scale": {"domain": [19.126, 34.06], "nice": false, "zero": false}, "axis": null},
       "y": {"field": "y", "type": "quantitative", "scale": {"domain": [0, 3], "nice": false}, "axis": null},
       "text": {"field": "label"}
      }}
    ],
    "resolve": {"scale": {"y": "independent"}, "axis": {"x": "independent", "y": "independent"}}
   }
  ]
 }
],
"spacing": 5.3
}
